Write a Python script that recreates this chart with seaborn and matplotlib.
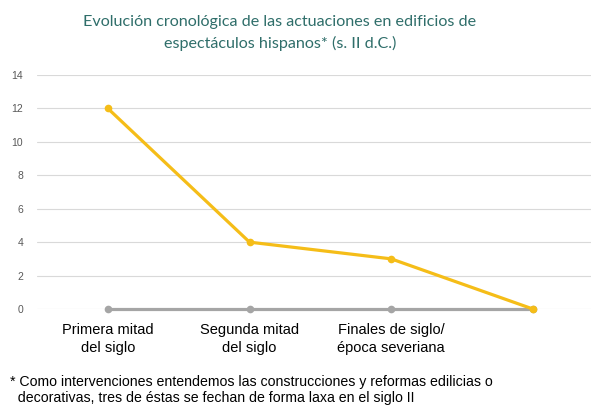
import pandas as pd
import matplotlib.pyplot as plt
import seaborn as sns

periodos = ['Primera mitad\ndel siglo', 'Segunda mitad\ndel siglo', 'Finales de siglo/\népoca severiana', '']
actuaciones = [12, 4, 3, 0]
serie_base = [0, 0, 0, 0]

df = pd.DataFrame({'Periodo': periodos, 'Actuaciones': actuaciones, 'Base': serie_base})

sns.set_style('white')
plt.rcParams['font.family'] = ['Liberation Sans', 'DejaVu Sans']

fig = plt.figure(figsize=(5.91, 4.07), dpi=100)
ax = fig.add_axes([37 / 591, 1 - 309 / 407, (591 - 37) / 591, (309 - 75) / 407])

# gris por debajo, amarillo encima
sns.lineplot(data=df, x='Periodo', y='Base', sort=False, color='#A5A5A5',
             linewidth=2.3, marker='o', markersize=5.5, markeredgewidth=0, ax=ax)
sns.lineplot(data=df, x='Periodo', y='Actuaciones', sort=False, color='#F5BD18',
             linewidth=2.3, marker='o', markersize=5.5, markeredgewidth=0, ax=ax)
for ln in ax.lines:
    ln.set_clip_on(False)

ax.set_ylim(0, 14)
ax.set_yticks(range(0, 15, 2))
ax.set_xlim(-0.5, 3.41)
ax.yaxis.grid(True, color='#D9D9D9', linewidth=0.8)
ax.set_axisbelow(True)
for s in ax.spines.values():
    s.set_visible(False)
ax.set_xlabel('')
ax.set_ylabel('')
ax.tick_params(axis='y', colors='#595959', labelsize=7.5, length=0, pad=10)
ax.tick_params(axis='x', colors='black', labelsize=10.5, length=0, pad=10)
for lab in ax.get_xticklabels():
    lab.set_linespacing(1.4)

fig.text(280 / 591, 1 - 33 / 407, 'Evolución cronológica de las actuaciones en edificios de\nespectáculos hispanos* (s. II d.C.)',
         ha='center', va='center', fontsize=11.6, color='#2F6E6A', family=['Lato', 'DejaVu Sans'],
         linespacing=1.5)

fig.text(10 / 591, 1 - 390 / 407,
         '* Como intervenciones entendemos las construcciones y reformas edilicias o\n'
         '  decorativas, tres de éstas se fechan de forma laxa en el siglo II',
         ha='left', va='center', fontsize=10.2, color='black', linespacing=1.15)

fig.savefig('out.png', dpi=100)
